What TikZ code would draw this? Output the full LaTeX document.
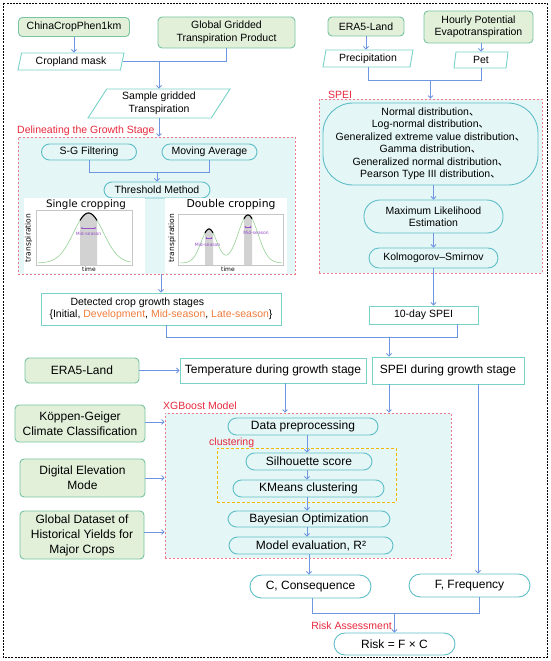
\documentclass[tikz,border=0pt]{standalone}
\usepackage{fontspec}
\setmainfont{Liberation Sans}
\newfontfamily\cjkf{Noto Sans CJK SC}
\newfontfamily\dejavu{DejaVu Sans}
\usetikzlibrary{arrows.meta,shapes.geometric,calc}
\definecolor{gfill}{RGB}{226,240,218}
\definecolor{gline}{RGB}{118,196,160}
\definecolor{rline}{RGB}{120,210,200}
\definecolor{pline}{RGB}{95,190,200}
\definecolor{cyanfill}{RGB}{228,246,246}
\definecolor{arrowc}{RGB}{112,150,225}
\definecolor{redc}{RGB}{230,40,60}
\definecolor{dashred}{RGB}{240,120,140}
\definecolor{yellowc}{RGB}{240,185,0}
\definecolor{orangec}{RGB}{240,125,60}
\definecolor{purplec}{RGB}{150,80,200}
\definecolor{plotgreen}{RGB}{150,210,150}
\newcommand\fsA{\fontsize{10.5}{12.5}\selectfont}
\newcommand\fsB{\fontsize{12}{15}\selectfont}
\newcommand\cjkcomma{{\cjkf 、}}
\begin{document}
\begin{tikzpicture}[x=1pt,y=-1pt,
  every node/.style={inner sep=0pt,font=\fsA},
  datanode/.style={draw=gline,fill=gfill,line width=0.9pt,rounded corners=4pt,align=center},
  rectnode/.style={draw=rline,fill=white,line width=0.9pt,align=center},
  para/.style={trapezium,trapezium stretches body=true,draw=rline,fill=white,line width=0.9pt,align=center,trapezium left angle=#1,trapezium right angle=180-#1},
  proc/.style={draw=pline,fill=cyanfill,line width=0.9pt,rounded corners=#1,align=center},
  proc/.default=8pt,
  redbox/.style={draw=dashred,fill=cyanfill,line width=0.8pt,dash pattern=on 2pt off 2pt},
  redlabel/.style={text=redc},
  arr/.style={draw=arrowc,line width=0.8pt,-{Straight Barb[length=2.5pt,width=5pt]}},
  ln/.style={draw=arrowc,line width=0.8pt},
  plotlbl/.style={font=\dejavu\fontsize{7.5}{8}\selectfont},
  midlbl/.style={text=purplec,font=\dejavu\fontsize{4.5}{5}\selectfont},
  midarr/.style={draw=purplec,line width=0.5pt,{Stealth[length=1.5pt,width=2pt]}-{Stealth[length=1.5pt,width=2pt]}}
]
\useasboundingbox (0,0) rectangle (550,661);
\draw[black,line width=0.9pt,dash pattern=on 2pt off 1.2pt] (3,3) rectangle (547,657);

% ---------- background boxes ----------
\node[redbox,minimum width=277,minimum height=137] (delbox) at (156.5,205.5) {};
\node[redlabel,anchor=west] (dellbl) at (17,131) {Delineating the Growth Stage};
\node[redbox,minimum width=223,minimum height=174] (speibox) at (430.5,186) {};
\node[redlabel,anchor=west] (speilbl) at (328,95) {SPEI};
\node[redbox,minimum width=286,minimum height=145] (xgbbox) at (308,485.5) {};
\node[redlabel,anchor=west] (xgblbl) at (163,406) {XGBoost Model};
\node[draw=yellowc,fill=cyanfill,line width=0.9pt,dash pattern=on 3pt off 2pt,minimum width=179,minimum height=54] (clusbox) at (306.5,475) {};
\node[redlabel,anchor=west] (cluslbl) at (209,443) {clustering};

% ---------- upper left ----------
\node[datanode,minimum width=111,minimum height=19] (china) at (74,27) {ChinaCropPhen1km};
\node[datanode,minimum width=137,minimum height=31] (gtp) at (226.5,32.5) {Global Gridded\\Transpiration Product};
\node[para=70,minimum width=106,minimum height=17] (crop) at (71,61.5) {Cropland mask};
\node[para=50,minimum width=142,minimum height=29] (sample) at (159,103.5) {Sample gridded\\Transpiration};

% ---------- delineating ----------
\node[proc,minimum width=95,minimum height=16] (sg) at (89,152) {S-G Filtering};
\node[proc,minimum width=95,minimum height=16] (ma) at (209.5,152) {Moving Average};
\node[proc,minimum width=106,minimum height=16] (thr) at (157,190) {Threshold Method};

% single cropping panel
\fill[white] (24,198) rectangle (145,273);
\node[font=\dejavu\fontsize{10.3}{11}\selectfont] (t1) at (86,205) {Single cropping};
\draw[gray!45,line width=0.4pt] (36,210) rectangle (132,265);
\fill[gray!35] (80,265) -- plot[domain=80:97,samples=20] (\x,{263-50*exp(0-0.5*(((\x-88.5)/15)^2))}) -- (97,265) -- cycle;
\draw[plotgreen,line width=0.6pt] plot[domain=38:131,samples=80] (\x,{263-50*exp(0-0.5*(((\x-88.5)/15)^2))});
\draw[black,line width=1.1pt] plot[domain=80:97,samples=20] (\x,{263-50*exp(0-0.5*(((\x-88.5)/15)^2))});
\draw[midarr] (81,228) -- (96,228);
\node[midlbl] (m1) at (88.5,234) {Mid-season};
\node[plotlbl,rotate=90] (y1) at (28.5,238) {transpiration};
\node[font=\dejavu\fontsize{6}{7}\selectfont] (x1) at (89,269.5) {time};

% double cropping panel
\fill[white] (165,198) rectangle (287,273);
\node[font=\dejavu\fontsize{10.8}{11}\selectfont] (t2) at (231,205) {Double cropping};
\draw[gray!45,line width=0.4pt] (178,214) rectangle (283,265);
\fill[gray!35] (205,265) -- plot[domain=205:213,samples=12] (\x,{263-34*exp(0-0.5*(((\x-209)/8)^2))-48*exp(0-0.5*(((\x-248)/10)^2))}) -- (213,265) -- cycle;
\fill[gray!35] (244,265) -- plot[domain=244:252,samples=12] (\x,{263-34*exp(0-0.5*(((\x-209)/8)^2))-48*exp(0-0.5*(((\x-248)/10)^2))}) -- (252,265) -- cycle;
\draw[plotgreen,line width=0.6pt] plot[domain=180:282,samples=100] (\x,{263-34*exp(0-0.5*(((\x-209)/8)^2))-48*exp(0-0.5*(((\x-248)/10)^2))});
\draw[black,line width=1.1pt] plot[domain=205:213,samples=12] (\x,{263-34*exp(0-0.5*(((\x-209)/8)^2))-48*exp(0-0.5*(((\x-248)/10)^2))});
\draw[black,line width=1.1pt] plot[domain=244:252,samples=12] (\x,{263-34*exp(0-0.5*(((\x-209)/8)^2))-48*exp(0-0.5*(((\x-248)/10)^2))});
\draw[midarr] (205.5,238) -- (212.5,238);
\node[midlbl] (m2) at (207.5,245) {Mid-season};
\draw[midarr] (244.5,227) -- (251.5,227);
\node[midlbl] (m3) at (256,233) {Mid-season};
\node[plotlbl,rotate=90] (y2) at (172,238) {transpiration};
\node[font=\dejavu\fontsize{6}{7}\selectfont] (x2) at (228,269.5) {time};

\node[rectnode,align=left,minimum width=240,minimum height=32] (detected) at (161,309)
  {\hspace*{21pt}Detected crop growth stages\\\{Initial, \textcolor{orangec}{Development}, \textcolor{orangec}{Mid-season}, \textcolor{orangec}{Late-season}\}};

% ---------- upper right ----------
\node[datanode,minimum width=76,minimum height=19] (era1) at (366,26.5) {ERA5-Land};
\node[datanode,minimum width=109,minimum height=32] (hourly) at (478.5,27) {Hourly Potential\\Evapotranspiration};
\node[para=73,minimum width=90,minimum height=17] (precip) at (368,58.5) {Precipitation};
\node[para=75,minimum width=54,minimum height=16] (pet) at (481,60) {Pet};

\node[proc=30pt,minimum width=215,minimum height=82] (dist) at (430.5,144)
  {Normal distribution\cjkcomma\\Log-normal distribution\cjkcomma\\Generalized extreme value distribution\cjkcomma\\Gamma distribution\cjkcomma\\Generalized normal distribution\cjkcomma\\Pearson Type III distribution\cjkcomma};
\node[proc=16pt,minimum width=139,minimum height=33] (mle) at (433.5,216.5) {Maximum Likelihood\\Estimation};
\node[proc=10pt,minimum width=129,minimum height=20] (ks) at (433.5,258) {Kolmogorov--Smirnov};
\node[rectnode,minimum width=109,minimum height=18] (spei10) at (423.5,315) {10-day SPEI};

% ---------- lower ----------
\node[datanode,font=\fsB,minimum width=114,minimum height=25] (era2) at (82,370.5) {ERA5-Land};
\node[rectnode,font=\fsB,minimum width=186,minimum height=25] (temp) at (273,370.5) {Temperature during growth stage};
\node[rectnode,font=\fsB,minimum width=152,minimum height=27] (speig) at (448,370.5) {SPEI during growth stage};
\node[datanode,font=\fsB,minimum width=130,minimum height=37] (koppen) at (80,423.5) {Köppen-Geiger\\Climate Classification};
\node[datanode,font=\fsB,minimum width=125,minimum height=38] (dem) at (82.5,478) {Digital Elevation\\Mode};
\node[datanode,font=\fsB,minimum width=124,minimum height=48] (gdy) at (82,535) {Global Dataset of\\Historical Yields for\\Major Crops};

\node[proc=8.5pt,font=\fsB,minimum width=150,minimum height=17] (prep) at (303,426.5) {Data preprocessing};
\node[proc=8.5pt,font=\fsB,minimum width=126,minimum height=17] (sil) at (309,461.5) {Silhouette score};
\node[proc=8.5pt,font=\fsB,minimum width=151,minimum height=17] (km) at (308.5,488.5) {KMeans clustering};
\node[proc=8.5pt,font=\fsB,minimum width=162,minimum height=16] (bayes) at (309,519) {Bayesian Optimization};
\node[proc=8.5pt,font=\fsB,minimum width=164,minimum height=17] (meval) at (311,545.5) {Model evaluation, R²};

\node[proc=11.5pt,fill=white,font=\fsB,minimum width=121,minimum height=23] (cons) at (310.5,586.5) {C, Consequence};
\node[proc=11.5pt,fill=white,font=\fsB,minimum width=121,minimum height=23] (freq) at (469.5,585.5) {F, Frequency};
\node[redlabel,anchor=east] (risklbl) at (392,626) {Risk Assessment};
\node[proc=11pt,fill=white,font=\fsB,minimum width=121,minimum height=22] (risk) at (394.5,644) {Risk = F × C};

% ---------- connectors ----------
\draw[arr] (china.south) -- (china.south |- crop.north);
\coordinate (j1) at (sample.north |- crop.east);
\draw[ln] (crop.east) -- (gtp.south |- crop.east) -- (gtp.south);
\draw[arr] (j1) -- (sample.north);
\draw[arr] (sample.south) -- (sample.south |- delbox.north);
\coordinate (j2) at (thr.north |- 0,172);
\draw[ln] (sg.south) -- (sg.south |- j2) -- (ma.south |- j2) -- (ma.south);
\draw[arr] (j2) -- (thr.north);
\draw[arr] (detected.north |- delbox.south) -- (detected.north);

\draw[arr] (era1.south) -- (era1.south |- precip.north);
\draw[arr] (hourly.south -| pet.north) -- (pet.north);
\coordinate (j3) at (speibox.north |- 0,80);
\draw[ln] (precip.south) -- (precip.south |- j3) -- (pet.south |- j3) -- (pet.south);
\draw[arr] (j3) -- (speibox.north);
\draw[arr] (dist.south -| mle.north) -- (mle.north);
\draw[arr] (mle.south) -- (ks.north);
\draw[arr] (ks.south) -- (ks.south |- spei10.north);

\coordinate (d1) at ([xshift=5pt]detected.south);
\coordinate (s1) at ([xshift=34pt]spei10.south);
\coordinate (j4) at (389,337);
\draw[ln] (d1) -- (d1 |- j4) -- (s1 |- j4) -- (s1);
\draw[arr] (j4) -- (j4 |- speig.north);

\draw[arr] (era2.east) -- (temp.west);
\draw[arr] ([xshift=12pt]temp.south) -- ([xshift=12pt]temp.south |- xgbbox.north);
\draw[arr] (j4 |- speig.south) -- (j4 |- xgbbox.north);
\draw[arr] ([xshift=30pt]speig.south) -- ([xshift=30pt]speig.south |- freq.north);

\draw[arr] (koppen.east |- 0,422) -- (xgbbox.west |- 0,422);
\draw[arr] (dem.east) -- (xgbbox.west |- dem.east);
\draw[arr] (gdy.east |- 0,532) -- (xgbbox.west |- 0,532);

\draw[arr] (prep.south -| 307,0) -- (sil.north -| 307,0);
\draw[arr] (sil.south -| 307,0) -- (km.north -| 307,0);
\draw[arr] (km.south -| 307,0) -- (bayes.north -| 307,0);
\draw[arr] (bayes.south -| 307,0) -- (meval.north -| 307,0);
\draw[arr] (meval.south -| 309,0) -- (cons.north -| 309,0);

\coordinate (j5) at (risk.north |- 0,613);
\draw[ln] ([xshift=2pt]cons.south) -- ([xshift=2pt]cons.south |- j5) -- ([xshift=9.5pt]freq.south |- j5) -- ([xshift=9.5pt]freq.south);
\draw[arr] (j5) -- (risk.north);
\end{tikzpicture}
\end{document}
